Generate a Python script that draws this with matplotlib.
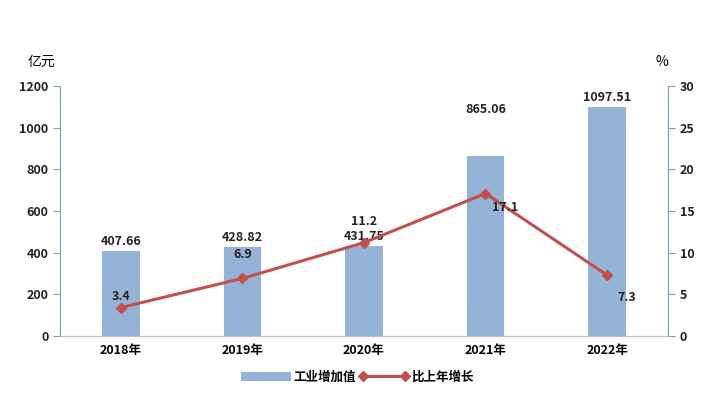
import matplotlib
matplotlib.use("Agg")
import matplotlib.pyplot as plt
import numpy as np

plt.rcParams['font.family'] = ['Noto Sans CJK SC', 'DejaVu Sans']

years = ['2018年', '2019年', '2020年', '2021年', '2022年']
value = [407.66, 428.82, 431.75, 865.06, 1097.51]
growth = [3.4, 6.9, 11.2, 17.1, 7.3]

bar_color = '#95B3D7'
line_color = '#C0504D'
axis_color = '#7F9DC4'

fig = plt.figure(figsize=(7.15, 3.97), dpi=100)
ax = fig.add_axes([0.084, 0.154, 0.850, 0.629])
ax2 = ax.twinx()

x = np.arange(len(years))
bars = ax.bar(x, value, width=0.31, color=bar_color, label='工业增加值', zorder=2)
ax.set_xlim(-0.5, 4.5)
ax.set_ylim(0, 1200)
ax.set_yticks(range(0, 1201, 200))
ax.set_xticks(x)
ax.set_xticklabels(years, fontsize=9, fontweight='bold')

line, = ax2.plot(x, growth, color=line_color, lw=2.2, marker='D', markersize=5.5,
                 label='比上年增长', zorder=3)
ax2.set_ylim(0, 30)
ax2.set_yticks(range(0, 31, 5))

for a in (ax, ax2):
    a.spines['top'].set_visible(False)
    a.spines['left'].set_color(axis_color)
    a.spines['right'].set_color(axis_color)
    a.spines['bottom'].set_color('#BFBFBF')
    a.tick_params(axis='y', colors=axis_color, labelcolor='#222222', labelsize=9, length=5)
    for lab in a.get_yticklabels():
        lab.set_fontweight('bold')
ax.spines['right'].set_visible(False)
ax2.spines['left'].set_visible(False)
ax.tick_params(axis='x', length=0, pad=6)

# bar labels (2021 label sits higher to clear the line)
bar_dy = [15, 15, 15, 190, 15]
for xi, v, dy in zip(x, value, bar_dy):
    ax.text(xi, v + dy, f'{v:.2f}', ha='center', va='bottom', fontsize=9,
            fontweight='bold', color='#222222')

offsets = [(0, 8), (0, 17), (0, 15), (14, -10), (14, -16)]
for xi, g, (dx, dy) in zip(x, growth, offsets):
    ax2.annotate(f'{g}', (xi, g), xytext=(dx, dy), textcoords='offset points',
                 ha='center', va='center', fontsize=9, fontweight='bold', color='#222222')

fig.text(0.058, 0.845, '亿元', ha='center', va='center', fontsize=10)
fig.text(0.925, 0.845, '%', ha='center', va='center', fontsize=10)

fig.legend([bars, line], ['工业增加值', '比上年增长'], loc='center', bbox_to_anchor=(0.5, 0.05),
           ncol=2, frameon=False, handlelength=4, columnspacing=0.2, numpoints=2,
           handletextpad=0.2, prop={'weight': 'bold', 'size': 9})

fig.savefig('out.png', dpi=100)
